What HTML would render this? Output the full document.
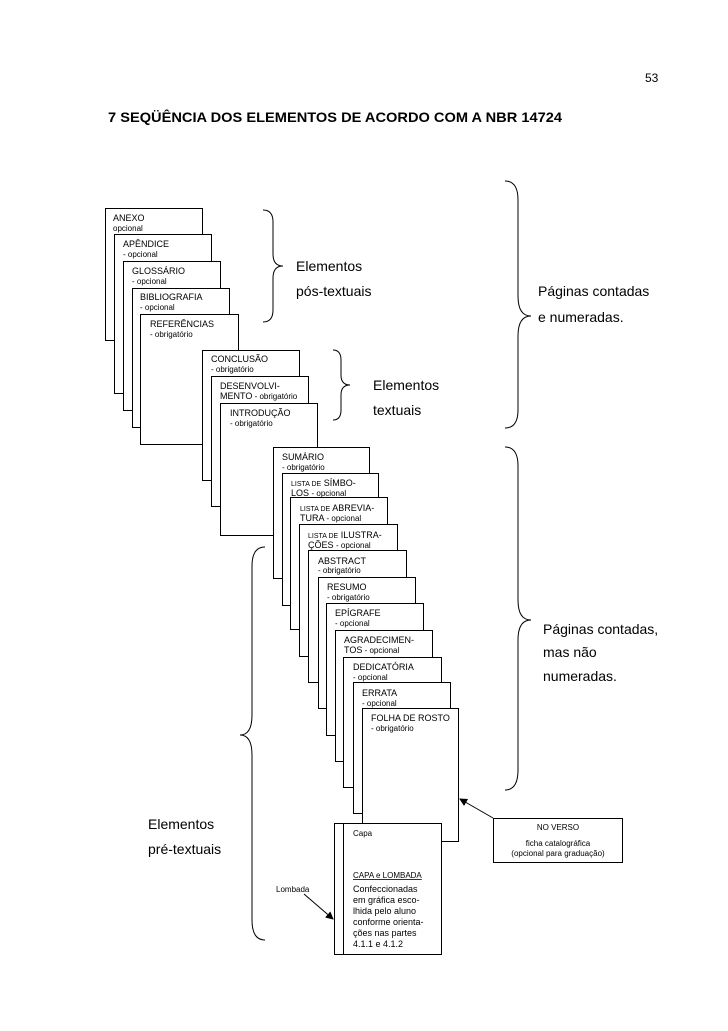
<!DOCTYPE html>
<html><head><meta charset="utf-8"><style>
html,body{margin:0;padding:0;background:#fff;}
svg{display:block;font-family:"Liberation Sans",sans-serif;}
.b{fill:#fff;stroke:#000;stroke-width:1;}
.t{font-size:9px;}
.s{font-size:8px;}
.l{font-size:14px;}
.br{fill:none;stroke:#000;stroke-width:1;}
</style></head><body>
<svg width="728" height="1031" viewBox="0 0 728 1031">
<defs><marker id="ah" markerWidth="8" markerHeight="8" refX="7" refY="4" orient="auto" markerUnits="userSpaceOnUse"><path d="M0,0 L8,4 L0,8 z" fill="#000"/></marker></defs>
<text x="645" y="82" style="font-size:12px">53</text>
<text x="108" y="122" style="font-size:14px;font-weight:bold" textLength="454" lengthAdjust="spacingAndGlyphs">7 SEQÜÊNCIA DOS ELEMENTOS DE ACORDO COM A NBR 14724</text>

<!-- post-textual -->
<rect class="b" x="105.5" y="208.5" width="97" height="132"/>
<text class="t" x="113" y="221">ANEXO</text><text class="s" x="113" y="231">opcional</text>
<rect class="b" x="114.5" y="234.5" width="97" height="159"/>
<text class="t" x="123" y="247">APÊNDICE</text><text class="s" x="123" y="257">- opcional</text>
<rect class="b" x="123.5" y="261.5" width="97" height="149"/>
<text class="t" x="132" y="274">GLOSSÁRIO</text><text class="s" x="132" y="284">- opcional</text>
<rect class="b" x="132.5" y="288.5" width="97" height="139"/>
<text class="t" x="140" y="300">BIBLIOGRAFIA</text><text class="s" x="140" y="310">- opcional</text>
<rect class="b" x="140.5" y="314.5" width="98" height="130"/>
<text class="t" x="150" y="327">REFERÊNCIAS</text><text class="s" x="150" y="337">- obrigatório</text>

<!-- textual -->
<rect class="b" x="202.5" y="350.5" width="97" height="130"/>
<text class="t" x="211" y="362">CONCLUSÃO</text><text class="s" x="211" y="372">- obrigatório</text>
<rect class="b" x="211.5" y="376.5" width="97" height="130"/>
<text class="t" x="220" y="389">DESENVOLVI-</text><text class="s" x="220" y="399"><tspan style="font-size:9px">MENTO</tspan> - obrigatório</text>
<rect class="b" x="220.5" y="403.5" width="97" height="132"/>
<text class="t" x="230" y="416">INTRODUÇÃO</text><text class="s" x="230" y="426">- obrigatório</text>

<!-- pre-textual -->
<rect class="b" x="273.5" y="447.5" width="96" height="131"/>
<text class="t" x="282" y="460">SUMÁRIO</text><text class="s" x="282" y="470">- obrigatório</text>
<rect class="b" x="282.5" y="473.5" width="96" height="132"/>
<text class="t" x="291" y="486"><tspan style="font-size:7px">LISTA DE</tspan> SÍMBO-</text><text class="t" x="291" y="496">LOS <tspan class="s">- opcional</tspan></text>
<rect class="b" x="290.5" y="497.5" width="97" height="132"/>
<text class="t" x="300" y="511"><tspan style="font-size:7px">LISTA DE</tspan> ABREVIA-</text><text class="t" x="300" y="521">TURA <tspan class="s">- opcional</tspan></text>
<rect class="b" x="299.5" y="524.5" width="98" height="132"/>
<text class="t" x="308" y="538"><tspan style="font-size:7px">LISTA DE</tspan> ILUSTRA-</text><text class="t" x="308" y="548">ÇÕES <tspan class="s">- opcional</tspan></text>
<rect class="b" x="308.5" y="550.5" width="98" height="132"/>
<text class="t" x="318" y="564">ABSTRACT</text><text class="s" x="318" y="573">- obrigatório</text>
<rect class="b" x="318.5" y="577.5" width="97" height="131"/>
<text class="t" x="327" y="590">RESUMO</text><text class="s" x="327" y="600">- obrigatório</text>
<rect class="b" x="326.5" y="603.5" width="97" height="132"/>
<text class="t" x="335" y="616">EPÍGRAFE</text><text class="s" x="335" y="626">- opcional</text>
<rect class="b" x="335.5" y="630.5" width="97" height="131"/>
<text class="t" x="344" y="643">AGRADECIMEN-</text><text class="s" x="344" y="653"><tspan style="font-size:9px">TOS</tspan> - opcional</text>
<rect class="b" x="343.5" y="657.5" width="98" height="130"/>
<text class="t" x="353" y="670">DEDICATÓRIA</text><text class="s" x="353" y="680">- opcional</text>
<rect class="b" x="353.5" y="682.5" width="97" height="131"/>
<text class="t" x="362" y="696">ERRATA</text><text class="s" x="362" y="706">- opcional</text>
<rect class="b" x="362.5" y="708.5" width="96" height="133"/>
<text class="t" x="371" y="721">FOLHA DE ROSTO</text><text class="s" x="371" y="731">- obrigatório</text>

<!-- capa -->
<rect class="b" x="334.5" y="823.5" width="107" height="131"/>
<line x1="343.5" y1="823" x2="343.5" y2="955" stroke="#000"/>
<text class="s" x="353" y="836">Capa</text>
<text class="s" x="353" y="878" style="text-decoration:underline">CAPA e LOMBADA</text>
<text class="t" x="353" y="892">Confeccionadas</text>
<text class="t" x="353" y="903">em gráfica esco-</text>
<text class="t" x="353" y="914">lhida pelo aluno</text>
<text class="t" x="353" y="925">conforme orienta-</text>
<text class="t" x="353" y="936">ções nas partes</text>
<text class="t" x="353" y="947">4.1.1 e 4.1.2</text>
<text class="s" x="276" y="892">Lombada</text>
<line x1="304" y1="894" x2="333" y2="919" stroke="#000" marker-end="url(#ah)"/>

<rect class="b" x="493.5" y="818.5" width="129" height="44"/>
<text class="s" x="558" y="830" text-anchor="middle">NO VERSO</text>
<text class="s" x="558" y="846" text-anchor="middle">ficha catalográfica</text>
<text class="s" x="558" y="856" text-anchor="middle">(opcional para graduação)</text>
<line x1="493" y1="818" x2="460" y2="799" stroke="#000" marker-end="url(#ah)"/>

<!-- braces -->
<path class="br" d="M263,210 Q273,210 273,222 L273,254 Q273,266 283,266 Q273,266 273,278 L273,310 Q273,322 263,322"/>
<path class="br" d="M333,350 Q341,350 341,360 L341,375 Q341,385 350,385 Q341,385 341,395 L341,410 Q341,420 333,420"/>
<path class="br" d="M505,181 Q518,181 518,200 L518,296 Q518,316 531,316 Q518,316 518,336 L518,410 Q518,428 505,428"/>
<path class="br" d="M505,447 Q518,447 518,466 L518,600 Q518,620 531,620 Q518,620 518,640 L518,770 Q518,790 505,790"/>
<path class="br" d="M265,547 Q252,547 252,566 L252,715 Q252,735 240,735 Q252,735 252,755 L252,920 Q252,940 265,940"/>

<text class="l" x="296" y="271">Elementos</text>
<text class="l" x="296" y="296">pós-textuais</text>
<text class="l" x="538" y="296">Páginas contadas</text>
<text class="l" x="538" y="322">e numeradas.</text>
<text class="l" x="373" y="390">Elementos</text>
<text class="l" x="373" y="415">textuais</text>
<text class="l" x="543" y="634">Páginas contadas,</text>
<text class="l" x="543" y="657">mas não</text>
<text class="l" x="543" y="681">numeradas.</text>
<text class="l" x="148" y="829">Elementos</text>
<text class="l" x="148" y="854">pré-textuais</text>
</svg>
</body></html>
